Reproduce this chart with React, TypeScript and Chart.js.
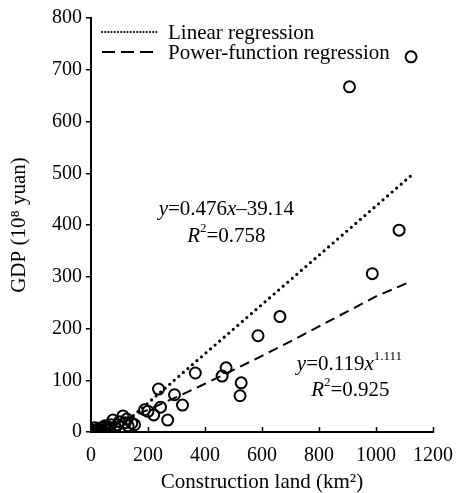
import React, { useEffect, useRef } from "react";
import { Chart, registerables } from "chart.js";
Chart.register(...registerables);

const FONT = "'Liberation Serif', 'Times New Roman', serif";

const xTicks = [0, 200, 400, 600, 800, 1000, 1200];
const yTicks = [0, 100, 200, 300, 400, 500, 600, 700, 800];

const landX = [
  1123, 907, 1081, 987, 663, 586, 474, 460, 527, 523, 366, 237, 293, 321, 269, 244, 220, 188,
  112, 126, 143, 153, 77, 94, 84, 49, 31, 14, 3,
  5, 8, 10, 12, 18, 20, 25, 28, 35, 40, 45, 55, 60, 65, 70, 100, 120, 130, 200, 1, 2, 6, 15, 22,
];
const gdpY = [
  725, 667, 390, 306, 223, 186, 124, 108, 95, 70, 114, 83, 72, 52, 23, 48, 33, 43,
  31, 25, 17, 14, 23, 14, 8, 12, 4, 8, 0,
  2, 1, 3, 1, 3, 5, 2, 6, 8, 3, 9, 6, 10, 4, 14, 20, 18, 12, 40, 1, 3, 0, 2, 1,
];

const linearX = [85, 1123];
const linearY = [1.3, 495.4];

const powerX = [10, 50, 100, 200, 300, 400, 500, 600, 700, 800, 900, 1000, 1123];
const powerY = [1.5, 9.2, 19.8, 42.9, 67.4, 93.2, 120, 147, 175, 204, 233, 262, 291];

const legendLabels = ["Linear regression", "Power-function regression"];

type Run = { t: string; italic?: boolean; sup?: boolean };

function drawRuns(ctx: CanvasRenderingContext2D, runs: Run[], cx: number, cy: number, size: number) {
  const supSize = Math.round(size * 0.62);
  const fontOf = (r: Run) => `${r.italic ? "italic " : ""}${r.sup ? supSize : size}px ${FONT}`;
  let total = 0;
  runs.forEach((r) => {
    ctx.font = fontOf(r);
    total += ctx.measureText(r.t).width;
  });
  let x = cx - total / 2;
  ctx.textBaseline = "middle";
  ctx.textAlign = "left";
  runs.forEach((r) => {
    ctx.font = fontOf(r);
    ctx.fillText(r.t, x, r.sup ? cy - size * 0.38 : cy);
    x += ctx.measureText(r.t).width;
  });
}

const overlay = {
  id: "overlay",
  afterDraw(chart: any) {
    const ctx = chart.ctx as CanvasRenderingContext2D;
    const xs = chart.scales.x;
    const ys = chart.scales.y;
    const area = chart.chartArea;
    ctx.save();
    ctx.strokeStyle = "#000";
    ctx.fillStyle = "#000";
    // inward x tick marks
    ctx.lineWidth = 1.5;
    xTicks.forEach((v) => {
      if (v === 0) return;
      const px = Math.round(xs.getPixelForValue(v)) + 0.5;
      ctx.beginPath();
      ctx.moveTo(px, area.bottom);
      ctx.lineTo(px, area.bottom - 5);
      ctx.stroke();
    });
    // legend
    const lx0 = area.left + 11;
    ctx.lineWidth = 2.2;
    ctx.setLineDash([0, 3.2]);
    ctx.lineCap = "round";
    ctx.beginPath();
    ctx.moveTo(lx0, 32);
    ctx.lineTo(lx0 + 55, 32);
    ctx.stroke();
    ctx.lineCap = "butt";
    ctx.lineWidth = 2;
    ctx.setLineDash([13, 6]);
    ctx.beginPath();
    ctx.moveTo(lx0, 52);
    ctx.lineTo(lx0 + 52, 52);
    ctx.stroke();
    ctx.setLineDash([]);
    ctx.font = `21px ${FONT}`;
    ctx.textBaseline = "middle";
    ctx.textAlign = "left";
    ctx.fillText(legendLabels[0], lx0 + 66, 33);
    ctx.fillText(legendLabels[1], lx0 + 66, 53);
    // annotations
    drawRuns(ctx, [{ t: "y", italic: true }, { t: "=0.476" }, { t: "x", italic: true }, { t: "\u201339.14" }],
      xs.getPixelForValue(475), ys.getPixelForValue(430), 21);
    drawRuns(ctx, [{ t: "R", italic: true }, { t: "2", sup: true }, { t: "=0.758" }],
      xs.getPixelForValue(475), ys.getPixelForValue(378), 21);
    drawRuns(ctx, [{ t: "y", italic: true }, { t: "=0.119" }, { t: "x", italic: true }, { t: "1.111", sup: true }],
      xs.getPixelForValue(907), ys.getPixelForValue(130), 21);
    drawRuns(ctx, [{ t: "R", italic: true }, { t: "2", sup: true }, { t: "=0.925" }],
      xs.getPixelForValue(910), ys.getPixelForValue(81), 21);
    ctx.restore();
  },
};

export default function App() {
  const ref = useRef<HTMLCanvasElement>(null);
  useEffect(() => {
    if (!ref.current) return;
    const chart = new Chart(ref.current, {
      type: "scatter",
      data: {
        datasets: [
          {
            label: "Linear regression",
            type: "line",
            data: linearX.map((x, i) => ({ x, y: linearY[i] })),
            borderColor: "#000",
            borderWidth: 3.2,
            borderDash: [0, 6],
            borderCapStyle: "round",
            pointRadius: 0,
            fill: false,
            tension: 0,
          } as any,
          {
            label: "Power-function regression",
            type: "line",
            data: powerX.map((x, i) => ({ x, y: powerY[i] })),
            borderColor: "#000",
            borderWidth: 2,
            borderDash: [10, 6],
            pointRadius: 0,
            fill: false,
            tension: 0,
          } as any,
          {
            label: "GDP",
            data: landX.map((x, i) => ({ x, y: gdpY[i] })),
            pointRadius: 5.5,
            pointBorderWidth: 2,
            borderColor: "#000",
            backgroundColor: "rgba(0,0,0,0)",
            showLine: false,
          },
        ],
      },
      options: {
        responsive: false,
        animation: false,
        layout: { padding: { left: 0, right: 29, top: 18, bottom: 0 } },
        plugins: { legend: { display: false }, tooltip: { enabled: false } },
        scales: {
          x: {
            type: "linear",
            min: 0,
            max: 1200,
            afterBuildTicks: (s: any) => {
              s.ticks = xTicks.map((v) => ({ value: v }));
            },
            ticks: {
              font: { family: FONT, size: 20 },
              color: "#000",
              padding: 12,
              maxRotation: 0,
              autoSkip: false,
              callback: (v: any) => String(v),
            },
            grid: { display: false, drawTicks: false },
            border: { display: true, color: "#000", width: 2 },
            title: {
              display: true,
              text: "Construction land (km\u00b2)",
              font: { family: FONT, size: 21, lineHeight: 1 },
              color: "#000",
              padding: { top: 0, bottom: 0 },
            },
            afterFit: (s: any) => {
              s.height = 61;
            },
          },
          y: {
            type: "linear",
            min: 0,
            max: 800,
            afterBuildTicks: (s: any) => {
              s.ticks = yTicks.map((v) => ({ value: v }));
            },
            ticks: {
              font: { family: FONT, size: 20 },
              color: "#000",
              padding: 4,
              autoSkip: false,
              callback: (v: any) => String(v),
            },
            grid: { display: true, drawOnChartArea: false, drawTicks: true, tickLength: 5, color: "#000", lineWidth: 1.5 },
            border: { display: true, color: "#000", width: 2 },
            title: {
              display: true,
              text: "GDP (10\u2078 yuan)",
              font: { family: FONT, size: 21, lineHeight: 1.2 },
              color: "#000",
              padding: { top: 7, bottom: 0 },
            },
            afterFit: (s: any) => {
              s.width = 91;
            },
          },
        },
      },
      plugins: [overlay],
    });
    return () => chart.destroy();
  }, []);
  return (
    <div style={{ position: "fixed", left: 0, top: 0 }}>
      <canvas ref={ref} width={465} height={493} style={{ display: "block" }} />
    </div>
  );
}
